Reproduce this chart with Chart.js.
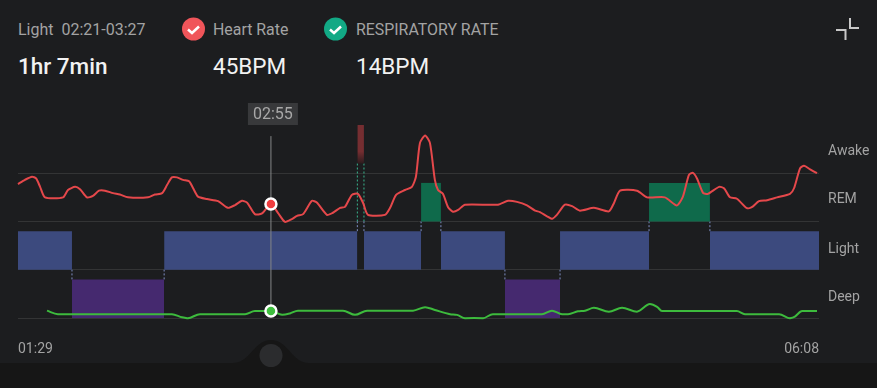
<!DOCTYPE html>
<html>
<head>
<meta charset="utf-8">
<title>Sleep stages</title>
<script src="https://cdn.jsdelivr.net/npm/chart.js@4"></script>
<style>
html, body { margin: 0; padding: 0; background: #1c1d1f; }
#page { position: relative; width: 877px; height: 388px; overflow: hidden; font-family: Roboto, sans-serif; }
#page svg { position: absolute; left: 0; top: 0; }
#chartBox { position: absolute; left: 0; top: 0; width: 877px; height: 388px; }
.txt { position: absolute; white-space: pre; }
.small { font-size: 15.900px; color: #a3a3a3; top: 20px; line-height: 19px; }
.big { font-size: 22.500px; color: #f2f2f2; top: 53px; line-height: 26px; }
</style>
</head>
<body>
<div id="page">
    <svg width="877" height="388">
        <path d="M0 363H233C250 363 254 340 271 340C288 340 292 363 309 363H877V388H0Z" fill="#161616"/>
        <circle cx="271" cy="355.500" r="11.500" fill="#2b2c2e"/>
        <circle cx="193.500" cy="29" r="11.500" fill="#f0555a"/>
        <path d="M188 29.500l4 3.500l7-6.500" fill="none" stroke="#fff" stroke-width="2.500"/>
        <circle cx="335.500" cy="29" r="11.500" fill="#12a985"/>
        <path d="M330 29.500l4 3.500l7-6.500" fill="none" stroke="#fff" stroke-width="2.500"/>
        <path d="M850 18V28H859M836 30H845.500V40" fill="none" stroke="#c8c8c8" stroke-width="2"/>
    </svg>
    <div class="txt small" style="left:18px;font-size:16px">Light  02:21-03:27</div>
    <div class="txt small" style="left:213px">Heart Rate</div>
    <div class="txt small" style="left:356px">RESPIRATORY RATE</div>
    <div class="txt big" style="left:18px;font-weight:500">1hr 7min</div>
    <div class="txt big" style="left:213px">45BPM</div>
    <div class="txt big" style="left:356px">14BPM</div>
    <div id="chartBox"><canvas id="sleepChart"></canvas></div>
</div>
<script>
var START_MIN = 89;
var END_MIN = 368;
var CURSOR_MIN = 177.1;
var CURSOR_LABEL = '02:55';

// sleep stages, minutes after midnight
var stageNames = ['Light', 'Deep', 'Light', 'Awake', 'Light', 'REM', 'Light', 'Deep', 'Light', 'REM', 'Light'];
var stageStart = [89, 107.8, 139.9, 207.2, 209.5, 229.4, 236.3, 258.6, 277.8, 308.8, 330];
var stageEnd = [107.8, 139.9, 207.2, 209.5, 229.4, 236.3, 258.6, 277.8, 308.8, 330, 368];
var stageLabels = ['Deep', 'Light', 'REM', 'Awake'];

var hrMinutes = [89, 91.4, 93.9, 95.3, 96.7, 98.4, 104.7, 106.4, 108.9, 110.6, 113, 115.1, 117.2, 119.3, 122.1, 124.5, 127.3, 134.3, 136.7, 139.2, 140.9, 142.6, 144.4, 146.5, 148.6, 150, 151.7, 154.8, 158.7, 162.1, 164.6, 167, 168.8, 171.5, 174, 177.1, 179.6, 182, 184.4, 186.2, 188.3, 191.4, 193.1, 196.6, 198.7, 201.2, 202.9, 205.3, 207.4, 209.2, 210.9, 216.8, 218.6, 220.7, 223.8, 226.2, 227.6, 229, 230.8, 232.5, 234.2, 235.3, 237, 238.8, 240.5, 242.3, 244.7, 256.2, 259.7, 262.8, 266.3, 269.1, 270.8, 275, 276.7, 279.5, 282, 284.7, 289.6, 294.8, 296.6, 298.7, 304.6, 308.1, 314.3, 318.5, 320.6, 322.7, 324.1, 325.5, 327.6, 329.3, 333.2, 334.9, 337, 339.4, 342.9, 344.6, 347.1, 349.9, 353.4, 357.9, 359.3, 361.4, 362.8, 364.9, 367.3];
var hrBpm = [50.7, 51.9, 52.8, 52.3, 49.9, 46.9, 46.9, 49, 49.9, 49.2, 46.9, 47.3, 48.8, 48.8, 48.1, 47.7, 46.9, 46.9, 47.7, 48.1, 50.4, 52.6, 52.6, 51.9, 51.5, 49.5, 47.1, 46.4, 45.8, 43.9, 44.7, 45.9, 45.4, 42.1, 42.3, 45, 42.4, 39.9, 40.7, 41.6, 42.1, 45.9, 45.4, 41.9, 42.5, 43.9, 44.2, 47.6, 47.9, 45.3, 41.9, 41.9, 43.9, 47.6, 49, 49.9, 52.8, 62.4, 64.6, 62.4, 51.9, 49, 47.9, 44.1, 42.8, 43.3, 44.8, 44.8, 45.9, 45.6, 44.6, 43.1, 42.7, 40.8, 41.9, 44.8, 44.4, 43.1, 43.9, 42.9, 45.3, 48.8, 48.8, 46.9, 46.9, 44.6, 47.1, 53.3, 53.9, 52.3, 48.2, 47.9, 49.9, 49.5, 46.9, 46.5, 43.8, 44.1, 45.8, 46.1, 46.9, 47.9, 49.5, 55.2, 55.9, 54.9, 53.8];

var respMinutes = [99.1, 102.9, 142.6, 146.1, 148.2, 152.4, 168.1, 171.5, 177.1, 181, 183.7, 186.5, 202.2, 206.4, 210.6, 226.6, 230.8, 234.2, 239.5, 241.9, 244.7, 251, 254.4, 271.5, 275, 278.5, 280.6, 284, 286.5, 289.6, 294.8, 299.4, 304.6, 309.1, 311.6, 313.3, 339.4, 342.2, 354.1, 357.9, 359.6, 362.1, 367.3];
var respBpm = [14.1, 13.1, 13.1, 12.2, 11.9, 13.1, 13.1, 14, 14, 12.9, 13.3, 14.1, 14.1, 12.9, 14.1, 14.1, 15.1, 14.3, 13.1, 12.9, 11.9, 11.9, 13.1, 13.1, 14.1, 13.1, 13.1, 13.9, 14.1, 14.9, 13.8, 14.9, 13.8, 16, 15.2, 14, 14, 13.1, 13.1, 11.9, 12.4, 14, 14];

var STAGE_COLORS = { Light: '#3c4a7e', Deep: '#45296f', REM: '#0f6a4b', Awake: '#752e31' };

function pairs(xs, ys) {
    var out = [];
    for (var i = 0; i < xs.length; i++) {
        out.push({ x: xs[i], y: ys[i] });
    }
    return out;
}

// band edges on the stage axis (Deep=0 .. Awake=4)
function stageBottom(name) {
    return name === 'Awake' ? 3.2 : stageLabels.indexOf(name);
}
function stageTop(name) {
    return name === 'Awake' ? 4 : stageLabels.indexOf(name) + 0.8;
}

function fmtTime(min) {
    var h = Math.floor(min / 60);
    var m = Math.round(min - h * 60);
    return (h < 10 ? '0' : '') + h + ':' + (m < 10 ? '0' : '') + m;
}

function markerRadius(ctx) {
    return ctx.raw && ctx.raw.x === CURSOR_MIN ? 5.5 : 0;
}

// the awake bar fades out towards its lower end
function awakeFill(ctx) {
    var scale = ctx.chart.scales.yStage;
    var y0 = scale ? scale.getPixelForValue(3.45) : NaN;
    var y1 = scale ? scale.getPixelForValue(3.2) : NaN;
    if (!isFinite(y0) || !isFinite(y1)) {
        return STAGE_COLORS.Awake;
    }
    var g = ctx.chart.ctx.createLinearGradient(0, y0, 0, y1);
    g.addColorStop(0, STAGE_COLORS.Awake);
    g.addColorStop(1, '#2c1c1e');
    return g;
}

var datasets = [
    {
        label: 'Heart Rate',
        data: pairs(hrMinutes, hrBpm),
        yAxisID: 'yHeart',
        borderColor: '#e5484b',
        backgroundColor: '#e5484b',
        borderWidth: 2,
        tension: 0.22,
        clip: false,
        pointRadius: markerRadius,
        pointBorderColor: '#ffffff',
        pointBorderWidth: 2.5,
        pointBackgroundColor: '#ee3d3f'
    },
    {
        label: 'RESPIRATORY RATE',
        data: pairs(respMinutes, respBpm),
        yAxisID: 'yBreath',
        borderColor: '#3dbb3d',
        backgroundColor: '#3dbb3d',
        borderWidth: 2,
        cubicInterpolationMode: 'monotone',
        clip: false,
        pointRadius: markerRadius,
        pointBorderColor: '#ffffff',
        pointBorderWidth: 2.5,
        pointBackgroundColor: '#3fbf3f'
    },
    {
        label: 'cursor',
        data: [{ x: CURSOR_MIN, y: 0.15 }, { x: CURSOR_MIN, y: 3.77 }],
        yAxisID: 'yStage',
        borderColor: '#858687',
        borderWidth: 1,
        pointRadius: 0
    }
];

function addConnector(x, lo, hi, color) {
    datasets.push({
        label: 'connector',
        data: [{ x: x, y: lo }, { x: x, y: hi }],
        yAxisID: 'yStage',
        borderColor: color,
        borderWidth: 1,
        borderDash: [2, 2],
        pointRadius: 0
    });
}

for (var i = 0; i < stageNames.length; i++) {
    var name = stageNames[i];
    datasets.push({
        label: name,
        data: [{ x: stageStart[i], y: stageTop(name) }, { x: stageEnd[i], y: stageTop(name) }],
        yAxisID: 'yStage',
        borderWidth: 0,
        pointRadius: 0,
        backgroundColor: name === 'Awake' ? awakeFill : STAGE_COLORS[name],
        fill: { target: { value: stageBottom(name) } }
    });
    if (i > 0) {
        var prev = stageNames[i - 1];
        var upper = stageBottom(name) > stageBottom(prev) ? name : prev;
        var lower = upper === name ? prev : name;
        if (upper === 'Awake') {
            addConnector(stageStart[i], stageTop(lower), 2, '#7f8fc4');
            addConnector(stageStart[i], 2, stageBottom(upper), '#39b48d');
        } else {
            addConnector(stageStart[i], stageTop(lower), stageBottom(upper), '#7f8fc4');
        }
    }
}

// small time tag above the cursor line
var cursorTag = {
    id: 'cursorTag',
    afterDatasetsDraw: function (chart) {
        var c = chart.ctx;
        var x = chart.scales.x.getPixelForValue(CURSOR_MIN);
        c.save();
        c.fillStyle = '#38393b';
        c.fillRect(x - 23, 103, 50, 22);
        c.fillStyle = '#a8a8a8';
        c.font = '16px Roboto';
        c.textAlign = 'center';
        c.textBaseline = 'middle';
        c.fillText(CURSOR_LABEL, x + 2, 114.5);
        c.restore();
    }
};

new Chart(document.getElementById('sleepChart'), {
    type: 'line',
    data: { datasets: datasets },
    plugins: [cursorTag],
    options: {
        responsive: true,
        maintainAspectRatio: false,
        animation: false,
        parsing: false,
        normalized: false,
        layout: { padding: { top: 125, left: 18, right: 0, bottom: 0 } },
        plugins: {
            legend: { display: false },
            tooltip: { enabled: false }
        },
        scales: {
            x: {
                type: 'linear',
                min: START_MIN,
                max: END_MIN,
                grid: { display: false },
                border: { display: false },
                afterFit: function (axis) { axis.height = 70; },
                afterBuildTicks: function (axis) {
                    axis.ticks = [{ value: START_MIN }, { value: END_MIN }];
                },
                ticks: {
                    align: 'inner',
                    autoSkip: false,
                    maxRotation: 0,
                    padding: 15,
                    color: '#a3a3a3',
                    font: { family: 'Roboto', size: 14 },
                    callback: function (v) { return fmtTime(v); }
                }
            },
            yStage: {
                type: 'linear',
                axis: 'y',
                position: 'right',
                min: 0,
                max: 4,
                border: { display: false },
                afterFit: function (axis) { axis.width = 58; },
                afterBuildTicks: function (axis) {
                    axis.ticks = [0, 0.43, 1, 1.41, 2, 2.46, 3, 3.46].map(function (v) {
                        return { value: v };
                    });
                },
                grid: {
                    drawTicks: false,
                    lineWidth: 1,
                    color: function (ctx) {
                        return ctx.tick && Number.isInteger(ctx.tick.value) ? '#333435' : 'rgba(0,0,0,0)';
                    }
                },
                ticks: {
                    autoSkip: false,
                    padding: 9,
                    color: '#a3a3a3',
                    font: { family: 'Roboto', size: 14 },
                    callback: function (v) {
                        return Number.isInteger(v) ? '' : stageLabels[Math.floor(v)];
                    }
                }
            },
            yHeart: { axis: 'y', display: false, min: 12.43, max: 67.57 },
            yBreath: { axis: 'y', display: false, min: 12, max: 67.14 }
        }
    }
});
</script>
</body>
</html>
